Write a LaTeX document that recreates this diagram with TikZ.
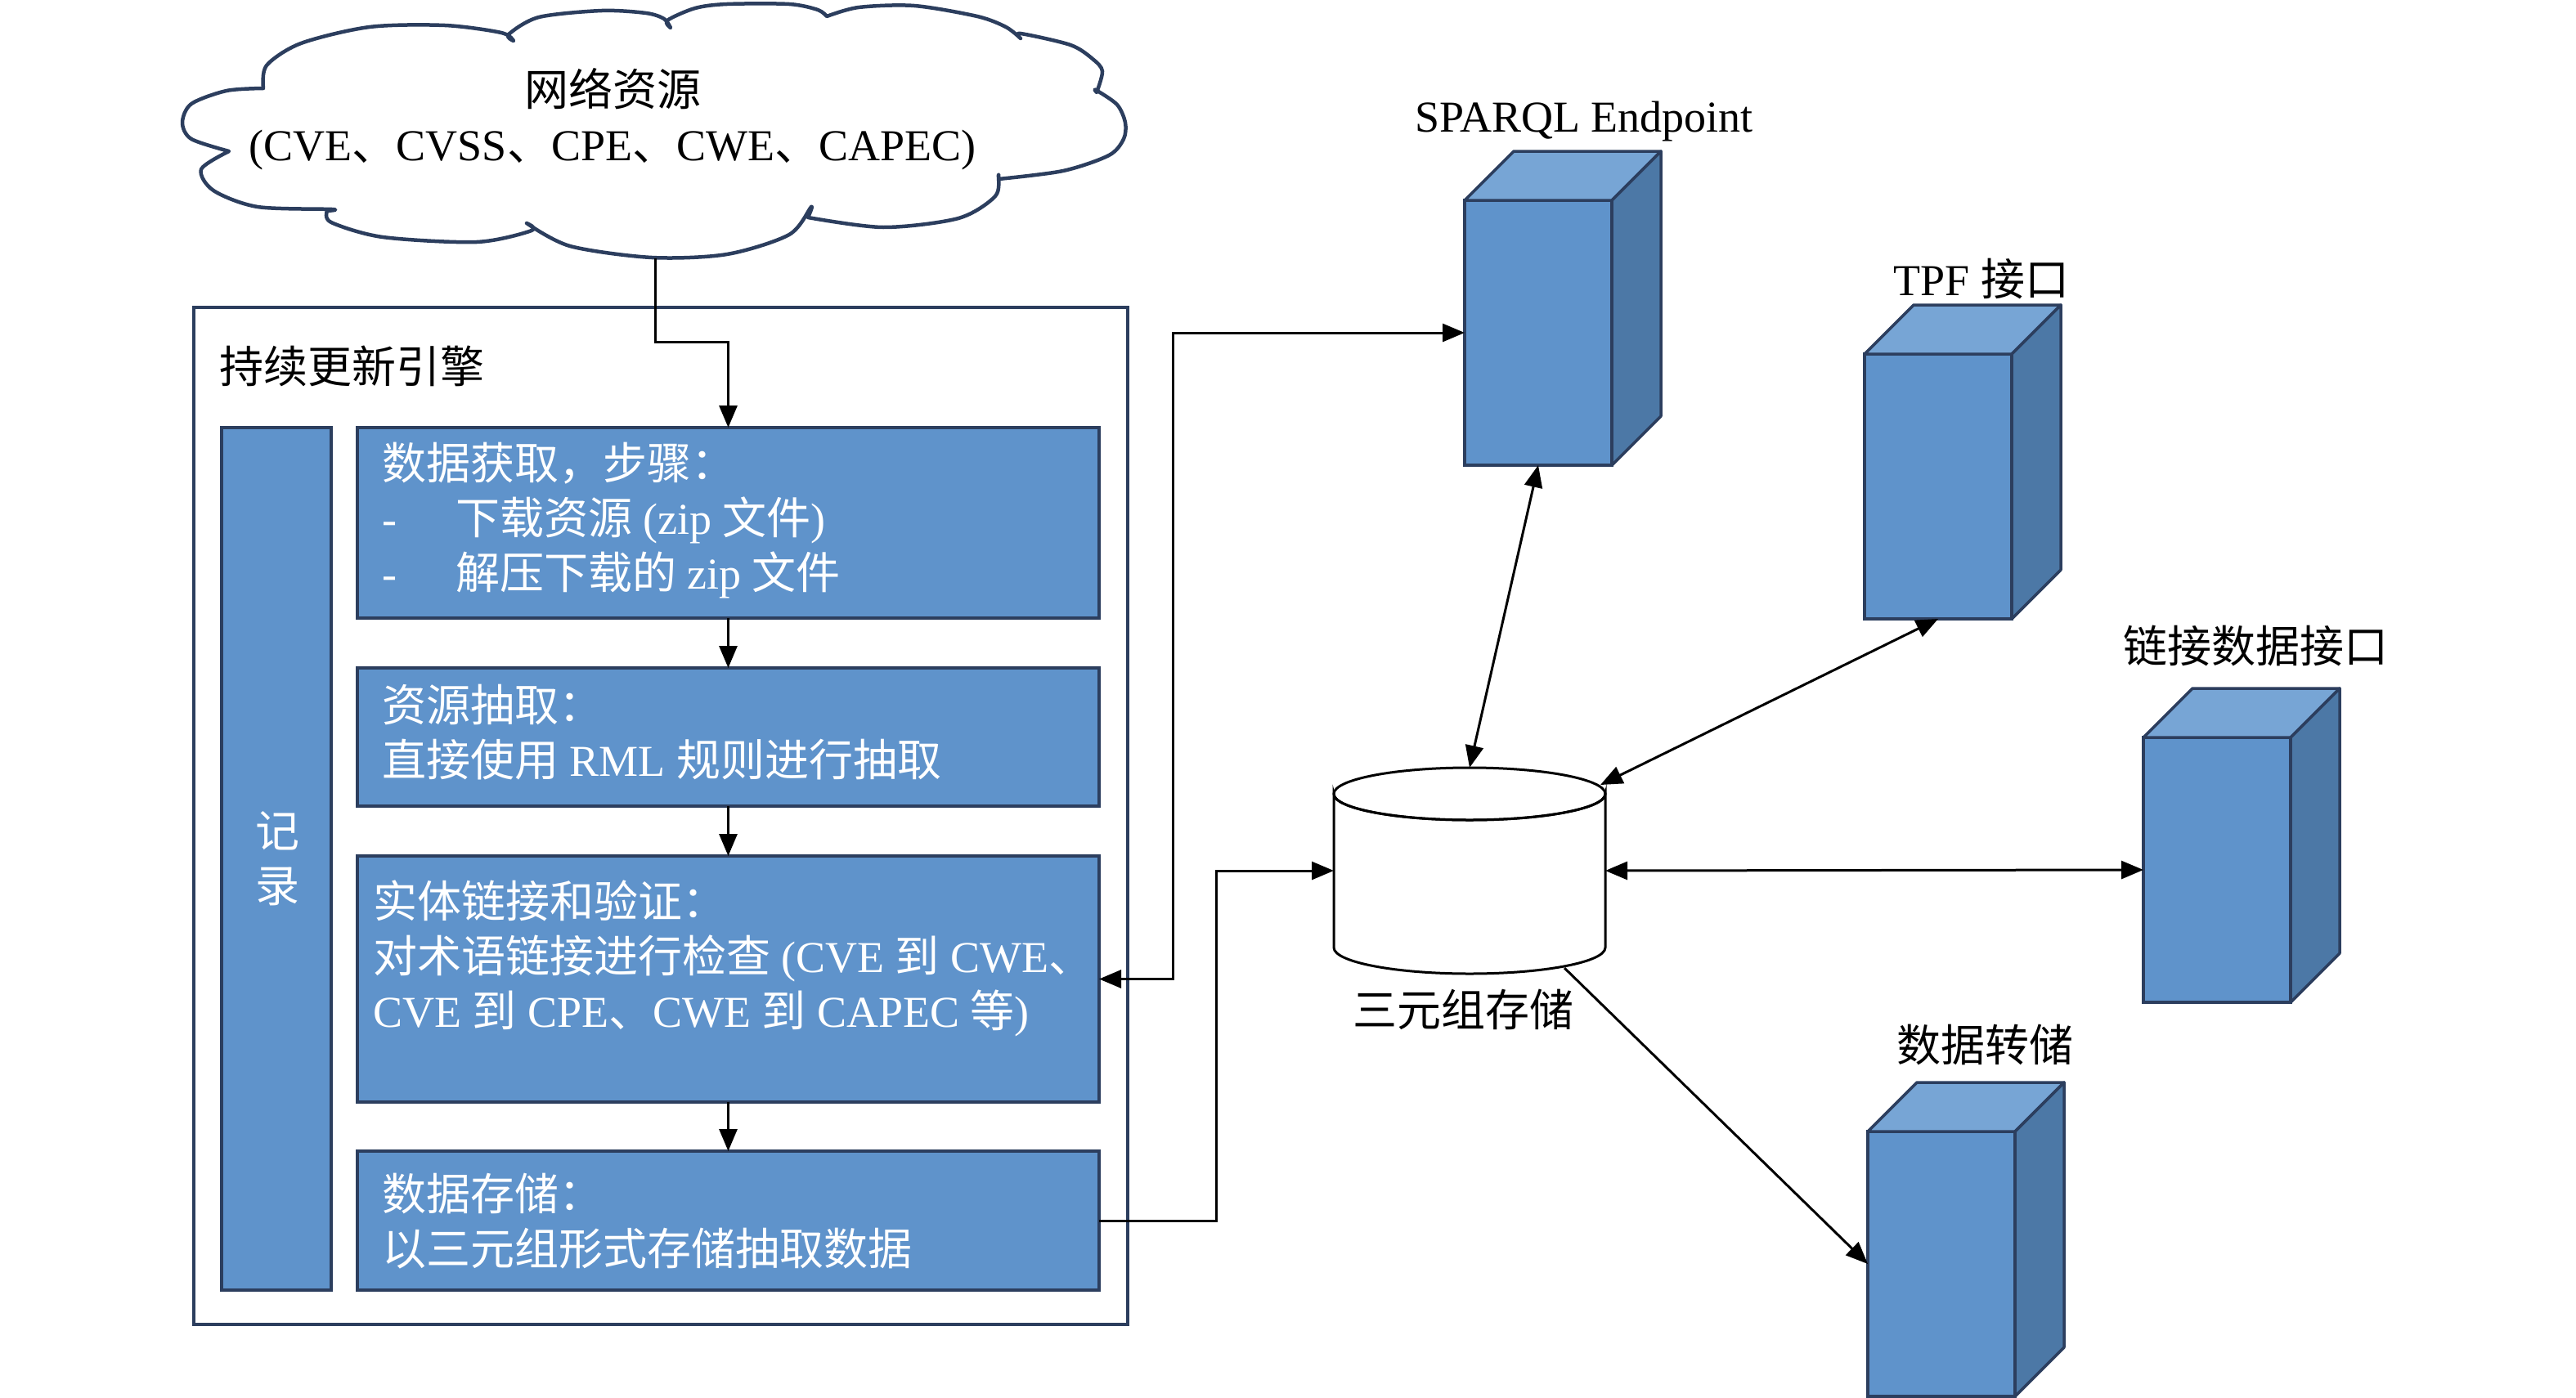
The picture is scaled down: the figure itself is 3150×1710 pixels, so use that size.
\documentclass[tikz,border=0pt]{standalone}
\usepackage{fontspec}
\setmainfont{Liberation Serif}
\newfontfamily\cjk{Noto Sans CJK SC}
\newcommand\zh[1]{{\cjk #1}}
\usetikzlibrary{arrows.meta}
\definecolor{navy}{HTML}{2C3E5E}
\definecolor{boxblue}{HTML}{5F93CB}
\definecolor{topblue}{HTML}{77A5D5}
\definecolor{sideblue}{HTML}{4C78A6}
\tikzset{
  every node/.style={font=\fontsize{54}{67}\selectfont, inner sep=0pt, outer sep=0pt},
  stepbox/.style={draw=navy, fill=boxblue, line width=4pt, rectangle, anchor=north west},
  boxtext/.style={text=white, align=left, anchor=west},
  front/.style={draw=navy, fill=boxblue, line width=3.5pt, rectangle, minimum width=180pt, minimum height=324pt},
  topface/.style={draw=navy, fill=topblue, line width=3.5pt, line join=round},
  sideface/.style={draw=navy, fill=sideblue, line width=3.5pt, line join=round},
  cloudline/.style={draw=navy, line width=4.5pt, fill=white, line join=round},
  arr/.style={-{Triangle[length=27pt,width=22pt]}, line width=3pt, draw=black},
  dbl/.style={{Triangle[length=27pt,width=22pt]}-{Triangle[length=27pt,width=22pt]}, line width=3pt, draw=black},
}
\newcommand\mycube[3]{%
  \node[front] (#1) at (#2,#3) {};
  \filldraw[topface] (#1.north west) -- ++(60,-60) -- ++(180,0) -- (#1.north east) -- cycle;
  \filldraw[sideface] (#1.north east) -- ++(60,-60) -- ++(0,324) -- (#1.south east) -- cycle;
}
\begin{document}
\begin{tikzpicture}[x=1pt,y=-1pt]
\useasboundingbox (0,0) rectangle (3150,1710);
% cloud
\path[cloudline]
  plot[smooth] coordinates {(280,185) (234,170) (223,150) (234,127) (277,111) (322,108)}
  -- plot[smooth] coordinates {(322,108) (326,80) (368,53) (452,33) (544,31) (613,40) (628,50)}
  -- plot[smooth] coordinates {(628,50) (622,42) (659,21) (736,13) (790,16) (812,23) (820,34)}
  -- plot[smooth] coordinates {(820,34) (816,25) (850,10) (889,5) (965,5) (1000,12) (1011,20)}
  -- plot[smooth] coordinates {(1011,20) (1050,9) (1118,7) (1195,20) (1230,33) (1248,47)}
  -- plot[smooth] coordinates {(1248,47) (1248,41) (1309,55) (1336,72) (1348,87) (1341,113)}
  -- plot[smooth] coordinates {(1341,113) (1340,110) (1366,128) (1376,150) (1374,170) (1356,190) (1300,209) (1221,219)}
  -- plot[smooth] coordinates {(1221,219) (1221,214) (1217,240) (1172,267) (1080,278) (988,266)}
  -- plot[smooth] coordinates {(988,266) (992,253) (965,287) (889,311) (797,315) (697,301) (644,273)}
  -- plot[smooth] coordinates {(644,273) (650,282) (583,296) (468,290) (405,272) (400,258)}
  -- plot[smooth] coordinates {(400,258) (406,256) (315,253) (261,233) (246,207) (280,185)}
  -- cycle;
\node[minimum width=1160pt, minimum height=305pt] (cloud) at (801,163) {};
\node[align=center] (cloudtxt) at (749,146) {\zh{网络资源}\\(CVE\zh{、}CVSS\zh{、}CPE\zh{、}CWE\zh{、}CAPEC)};
% engine
\node[draw=navy, line width=3.5pt, rectangle, anchor=north west, minimum width=1142pt, minimum height=1244pt] (engine) at (237,376) {};
\node[anchor=west] (enginetitle) at (268,448) {\zh{持续更新引擎}};
\node[stepbox, minimum width=134pt, minimum height=1055pt] (log) at (271,523) {};
\node[text=white, align=center] (logtxt) at (339,1050) {\zh{记}\\\zh{录}};
\node[stepbox, minimum width=907pt, minimum height=233pt] (box1) at (437,523) {};
\node[stepbox, minimum width=907pt, minimum height=169pt] (box2) at (437,817) {};
\node[stepbox, minimum width=907pt, minimum height=301pt] (box3) at (437,1047) {};
\node[stepbox, minimum width=907pt, minimum height=170pt] (box4) at (437,1408) {};
\node[boxtext] (t1) at (467,637) {\zh{数据获取，步骤：}\\\makebox[90pt][l]{-}\zh{下载资源} (zip \zh{文件})\\\makebox[90pt][l]{-}\zh{解压下载的} zip \zh{文件}};
\node[boxtext] (t2) at (467,896) {\zh{资源抽取：}\\\zh{直接使用} RML \zh{规则进行抽取}};
\node[boxtext] (t3) at (456,1172) {\zh{实体链接和验证：}\\\zh{对术语链接进行检查} (CVE \zh{到} CWE\zh{、}\\CVE \zh{到} CPE\zh{、}CWE \zh{到} CAPEC \zh{等})};
\node[boxtext] (t4) at (467,1494) {\zh{数据存储：}\\\zh{以三元组形式存储抽取数据}};
% cubes
\mycube{sparql}{1881}{407}
\mycube{tpf}{2370}{595}
\mycube{ldf}{2711}{1064}
\mycube{dump}{2374}{1546}
\node (sparqlt) at (1937,149) {SPARQL Endpoint};
\node (tpft) at (2423,341) {TPF \zh{接口}};
\node (ldft) at (2758,790) {\zh{链接数据接口}};
\node (dumpt) at (2427,1278) {\zh{数据转储}};
% cylinder store
\node[minimum width=332pt, minimum height=252pt] (store) at (1797,1065) {};
\filldraw[draw=black, fill=white, line width=3pt] (1631,971) -- (1631,1159) arc[start angle=180, end angle=360, x radius=166, y radius=-32] -- (1963,971) arc[start angle=0, end angle=-180, x radius=166, y radius=-32] -- cycle;
\draw[line width=3pt] (1797,971) ellipse[x radius=166, y radius=32];
\node (storet) at (1789,1235) {\zh{三元组存储}};
\coordinate (storene) at (1957,960);
\coordinate (storese) at (1913,1184);
\coordinate (k1) at (800,418);
% connectors
\draw[arr] (cloud.south) -- (cloud.south |- k1) -| (box1.north);
\draw[arr] (box1.south) -- (box2.north);
\draw[arr] (box2.south) -- (box3.north);
\draw[arr] (box3.south) -- (box4.north);
\draw[dbl] (box3.east) -- ++(90,0) |- (sparql.west);
\draw[arr] (box4.east) -- ++(143,0) |- (store.west);
\draw[dbl] (store.north) -- (sparql.south);
\draw[dbl] (storene) -- (tpf.south);
\draw[dbl] (store.east) -- (ldf.west);
\draw[arr] (storese) -- (dump.west);
\end{tikzpicture}
\end{document}
